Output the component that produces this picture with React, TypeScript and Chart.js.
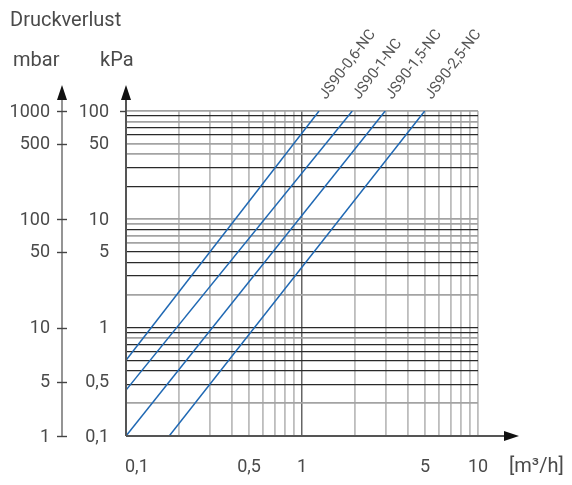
import { useEffect, useRef } from 'react';
import { Chart, registerables } from 'chart.js';

Chart.register(...registerables);

// Series (flow m³/h, pressure loss mbar)
const seriesNames = ['JS90-0,6-NC', 'JS90-1-NC', 'JS90-1,5-NC', 'JS90-2,5-NC'];
const flow06 = [0.1, 1.25];
const dp06 = [5, 1000];
const flow1 = [0.1, 1.93];
const dp1 = [2.65, 1000];
const flow15 = [0.1, 2.97];
const dp15 = [1, 1000];
const flow25 = [0.176, 4.98];
const dp25 = [1, 1000];

// Grid values
const xGrid = [0.1, 0.2, 0.3, 0.4, 0.5, 0.6, 0.7, 0.8, 0.9, 1, 2, 3, 4, 5, 6, 7, 8, 9, 10];
const xGridDark = [1];
const yGrid = [
  1, 2, 3, 4, 5, 6, 7, 8, 9,
  10, 20, 30, 40, 50, 60, 70, 80, 90,
  100, 200, 300, 400, 500, 600, 700, 800, 900,
  1000,
];
const yGridDark = [3, 4, 5, 6, 7, 9, 10, 30, 40, 50, 80, 200, 300, 600, 700, 900];

// Tick labels
const xTickValues = [0.1, 0.5, 1, 5, 10];
const xTickLabels = ['0,1', '0,5', '1', '5', '10'];
const yTickValues = [1, 3.16, 10, 50, 100, 500, 1000];
const mbarLabels = ['1', '5', '10', '50', '100', '500', '1000'];
const kpaLabels = ['0,1', '0,5', '1', '5', '10', '50', '100'];

const FONT = 'Roboto, "Liberation Sans", sans-serif';
const TEXT = '#4a4a4a';
const BLUE = '#1f68b3';

const flows = [flow06, flow1, flow15, flow25];
const dps = [dp06, dp1, dp15, dp25];

const overlay = {
  id: 'overlay',
  afterDraw(chart: any) {
    const { ctx, chartArea } = chart;
    const { left, right, top, bottom } = chartArea;
    const x = chart.scales.x;
    const y = chart.scales.y;
    ctx.save();

    // Titles
    ctx.fillStyle = TEXT;
    ctx.textAlign = 'left';
    ctx.textBaseline = 'alphabetic';
    ctx.font = `20px ${FONT}`;
    ctx.fillText('Druckverlust', 10, 26);
    ctx.fillText('mbar', 13, 66);
    ctx.fillText('kPa', 100, 66);

    const arrowUp = (ax: number, color: string, w: number) => {
      ctx.strokeStyle = color;
      ctx.lineWidth = w;
      ctx.beginPath();
      ctx.moveTo(ax, bottom);
      ctx.lineTo(ax, top - 12);
      ctx.stroke();
      ctx.fillStyle = '#111';
      ctx.beginPath();
      ctx.moveTo(ax, top - 26);
      ctx.lineTo(ax - 5, top - 11);
      ctx.lineTo(ax + 5, top - 11);
      ctx.closePath();
      ctx.fill();
    };

    // mbar axis
    const mbarX = left - 64;
    arrowUp(mbarX, '#7a7a7a', 1.6);
    ctx.strokeStyle = '#444';
    ctx.lineWidth = 1.4;
    yTickValues.forEach((v) => {
      const py = Math.round(y.getPixelForValue(v)) + 0.5;
      ctx.beginPath();
      ctx.moveTo(mbarX - 5, py);
      ctx.lineTo(mbarX + 5, py);
      ctx.stroke();
    });

    // kPa axis (chart left border)
    arrowUp(left, '#555555', 2);
    ctx.strokeStyle = '#444';
    ctx.lineWidth = 1.4;
    ctx.beginPath();
    ctx.moveTo(left - 6, Math.round(top) + 0.5);
    ctx.lineTo(left, Math.round(top) + 0.5);
    ctx.stroke();

    // x axis with arrow
    ctx.strokeStyle = '#555555';
    ctx.lineWidth = 2;
    ctx.beginPath();
    ctx.moveTo(left, bottom);
    ctx.lineTo(right + 28, bottom);
    ctx.stroke();
    ctx.fillStyle = '#111';
    ctx.beginPath();
    ctx.moveTo(right + 41, bottom);
    ctx.lineTo(right + 26, bottom - 5);
    ctx.lineTo(right + 26, bottom + 5);
    ctx.closePath();
    ctx.fill();

    // y labels
    ctx.fillStyle = TEXT;
    ctx.font = `18px ${FONT}`;
    ctx.textAlign = 'right';
    ctx.textBaseline = 'middle';
    yTickValues.forEach((v, i) => {
      const py = y.getPixelForValue(v) + 1;
      ctx.fillText(mbarLabels[i], mbarX - 12, py);
      ctx.fillText(kpaLabels[i], left - 17, py);
    });

    // x labels
    xTickValues.forEach((v, i) => {
      const px = x.getPixelForValue(v);
      ctx.textAlign = i === 0 ? 'left' : 'center';
      ctx.fillText(xTickLabels[i], i === 0 ? px - 1 : px, bottom + 31);
    });
    ctx.textAlign = 'left';
    ctx.font = `20px ${FONT}`;
    ctx.fillText('[m³/h]', right + 31, bottom + 31);

    // series labels
    ctx.font = `15px ${FONT}`;
    ctx.fillStyle = '#555';
    ctx.textBaseline = 'alphabetic';
    seriesNames.forEach((name, i) => {
      const f = flows[i];
      const d = dps[i];
      const px = x.getPixelForValue(f[f.length - 1]);
      const py = y.getPixelForValue(d[d.length - 1]);
      ctx.save();
      ctx.translate(px + 7, py - 11);
      ctx.rotate((-53 * Math.PI) / 180);
      ctx.textAlign = 'left';
      ctx.fillText(name, 0, 0);
      ctx.restore();
    });

    ctx.restore();
  },
};

export default function App() {
  const ref = useRef<HTMLCanvasElement | null>(null);

  useEffect(() => {
    if (!ref.current) return;
    const datasets = seriesNames.map((name, i) => ({
      label: name,
      data: flows[i].map((q, j) => ({ x: q, y: dps[i][j] })),
      showLine: true,
      borderColor: BLUE,
      backgroundColor: BLUE,
      borderWidth: 1.5,
      pointRadius: 0,
      fill: false,
    }));

    const chart = new Chart(ref.current, {
      type: 'scatter',
      data: { datasets },
      plugins: [overlay],
      options: {
        animation: false,
        responsive: true,
        maintainAspectRatio: false,
        layout: { padding: { left: 126, right: 94, top: 111, bottom: 49 } },
        plugins: { legend: { display: false }, tooltip: { enabled: false } },
        scales: {
          x: {
            type: 'logarithmic',
            min: 0.1,
            max: 10,
            afterBuildTicks: (scale: any) => {
              scale.ticks = xGrid.map((v) => ({ value: v }));
            },
            ticks: { display: false, autoSkip: false },
            border: { display: false },
            grid: {
              drawTicks: false,
              tickLength: 0,
              color: (c: any) => {
                const v = c.tick ? c.tick.value : 0;
                if (Math.abs(v - 0.1) < 1e-9) return 'rgba(0,0,0,0)';
                return xGridDark.some((d) => Math.abs(d - v) < 1e-9) ? '#666666' : '#bdbdbd';
              },
              lineWidth: (c: any) => {
                const v = c.tick ? c.tick.value : 0;
                return xGridDark.some((d) => Math.abs(d - v) < 1e-9) ? 1.5 : 1.8;
              },
            },
          },
          y: {
            type: 'logarithmic',
            min: 1,
            max: 1000,
            afterBuildTicks: (scale: any) => {
              scale.ticks = yGrid.map((v) => ({ value: v }));
            },
            ticks: { display: false, autoSkip: false },
            border: { display: false },
            grid: {
              drawTicks: false,
              tickLength: 0,
              color: (c: any) => {
                const v = c.tick ? c.tick.value : 0;
                if (Math.abs(v - 1) < 1e-9) return 'rgba(0,0,0,0)';
                return yGridDark.some((d) => Math.abs(d - v) < 1e-9) ? '#2a2a2a' : '#a3a3a3';
              },
              lineWidth: (c: any) => {
                const v = c.tick ? c.tick.value : 0;
                return yGridDark.some((d) => Math.abs(d - v) < 1e-9) ? 1.2 : 1.8;
              },
            },
          },
        },
      },
    });
    return () => chart.destroy();
  }, []);

  return (
    <div style={{ position: 'fixed', left: 0, top: 0, width: 572, height: 485, background: '#fff' }}>
      <canvas ref={ref} />
    </div>
  );
}
